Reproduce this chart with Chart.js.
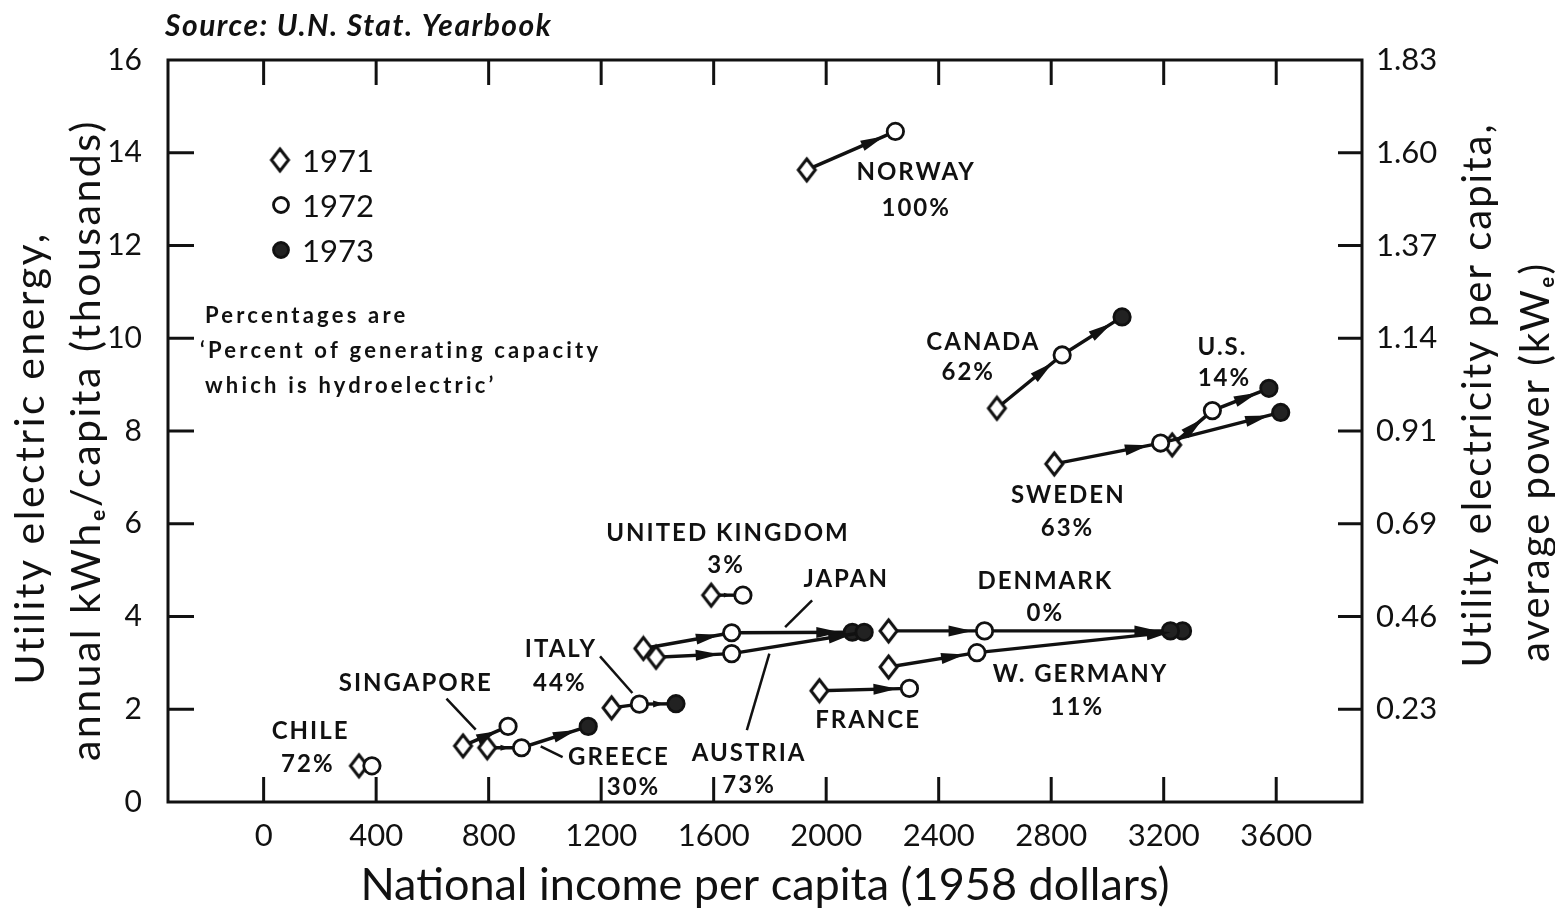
<!DOCTYPE html>
<html>
<head>
<meta charset="utf-8">
<script src="https://cdn.jsdelivr.net/npm/chart.js@4.4.1/dist/chart.umd.min.js"></script>
<style>
  html, body { margin: 0; padding: 0; background: #fff; }
  #wrap { width: 1555px; height: 912px; position: relative; }
</style>
</head>
<body>
<div id="wrap"><canvas id="myChart"></canvas></div>
<script>
// values: national income (1958 $) and kWh(e)/capita (thousands)
const countries = ['Chile', 'Singapore', 'Greece', 'Italy', 'United Kingdom', 'Austria', 'Japan', 'France',
                   'Denmark', 'W. Germany', 'Norway', 'Canada', 'Sweden', 'U.S.'];
const income1971 = [339, 709, 795, 1237, 1591, 1395, 1350, 1976, 2222, 2222, 1931, 2607, 2811, 3230];
const income1972 = [385, 869, 917, 1336, 1704, 1664, 1664, 2296, 2563, 2536, 2246, 2839, 3189, 3373];
const income1973 = [null, null, 1154, 1466, null, 2135, 2093, null, 3224, 3267, null, 3052, 3616, 3574];
const energy1971 = [0.78, 1.21, 1.17, 2.03, 4.46, 3.12, 3.31, 2.40, 3.69, 2.91, 13.63, 8.49, 7.29, 7.70];
const energy1972 = [0.78, 1.63, 1.17, 2.11, 4.46, 3.20, 3.65, 2.45, 3.69, 3.22, 14.46, 9.64, 7.74, 8.44];
const energy1973 = [null, null, 1.63, 2.12, null, 3.66, 3.66, null, 3.69, 3.69, null, 10.46, 8.40, 8.92];
const hydroShare = ['72%', '', '30%', '44%', '3%', '73%', '', '', '0%', '11%', '100%', '62%', '63%', '14%'];

const xTicks = [0, 400, 800, 1200, 1600, 2000, 2400, 2800, 3200, 3600];
const yTicks = [0, 2, 4, 6, 8, 10, 12, 14, 16];
const kWeLabels = ['', '0.23', '0.46', '0.69', '0.91', '1.14', '1.37', '1.60', '1.83'];
const years = ['1971', '1972', '1973'];

// where the country names / percentages sit (axis units): nameX, nameY, pctX, pctY
const labelAt = [
  [167, 1.53, 157, 0.81], [541, 2.56], [1263, 0.96, 1315, 0.32], [1057, 3.30, 1053, 2.56],
  [1651, 5.80, 1644, 5.11], [1726, 1.05, 1726, 0.36], [2071, 4.81], [2149, 1.76],
  [2779, 4.76, 2779, 4.07], [2904, 2.76, 2893, 2.05], [2320, 13.57, 2320, 12.81],
  [2559, 9.92, 2505, 9.26], [2861, 6.62, 2858, 5.91], [3409, 9.81, 3416, 9.14]
];
// leader lines from a label to its track
const leaders = [
  [1950, 4.35, 1854, 3.77], [1798, 3.20, 1718, 1.55], [1196, 3.14, 1311, 2.35],
  [650, 2.23, 754, 1.56], [985, 1.20, 1063, 0.97]
];

const INK = '#111';
const FONT = 'Lato, "DejaVu Sans", sans-serif';

// 1971 marker: a diamond a little taller than wide
function diamondImage(w, h, lw) {
  const c = document.createElement('canvas');
  c.width = Math.ceil(w + lw * 2);
  c.height = Math.ceil(h + lw * 2);
  const g = c.getContext('2d');
  const cx = c.width / 2, cy = c.height / 2;
  g.beginPath();
  g.moveTo(cx, cy - h / 2);
  g.lineTo(cx + w / 2, cy);
  g.lineTo(cx, cy + h / 2);
  g.lineTo(cx - w / 2, cy);
  g.closePath();
  g.fillStyle = '#fff';
  g.fill();
  g.lineWidth = lw;
  g.strokeStyle = INK;
  g.stroke();
  return c;
}
const diamond = diamondImage(17, 22, 3);

function buildDatasets() {
  return countries.map((name, i) => {
    const pts = [{x: income1971[i], y: energy1971[i]}, {x: income1972[i], y: energy1972[i]}];
    if (income1973[i] !== null) pts.push({x: income1973[i], y: energy1973[i]});
    return {
      label: name,
      data: pts,
      showLine: true,
      borderColor: INK,
      borderWidth: 3.4,
      pointStyle: [diamond, 'circle', 'circle'],
      pointRadius: [10, 8.2, 8.2],
      pointBackgroundColor: ['#fff', '#fff', '#222'],
      pointBorderColor: INK,
      pointBorderWidth: 2.8
    };
  });
}

function line(ctx, x1, y1, x2, y2) {
  ctx.beginPath();
  ctx.moveTo(x1, y1);
  ctx.lineTo(x2, y2);
  ctx.stroke();
}

function rotatedText(ctx, text, x, y) {
  ctx.save();
  ctx.translate(x, y);
  ctx.rotate(-Math.PI / 2);
  ctx.fillText(text, 0, 0);
  ctx.restore();
}

const framePlugin = {
  id: 'frame',
  beforeDatasetsDraw(chart) {
    const {ctx, chartArea: ca, scales} = chart;
    ctx.save();
    ctx.strokeStyle = INK;
    ctx.lineWidth = 3;
    ctx.strokeRect(ca.left, ca.top, ca.width, ca.height);
    xTicks.forEach(v => {
      const px = scales.x.getPixelForValue(v);
      line(ctx, px, ca.bottom, px, ca.bottom - 25);
      line(ctx, px, ca.top, px, ca.top + 25);
    });
    yTicks.slice(1, -1).forEach(v => {
      const py = scales.y.getPixelForValue(v);
      line(ctx, ca.left, py, ca.left + 26, py);
      line(ctx, ca.right, py, ca.right - 24, py);
    });
    ctx.restore();
  }
};

const arrowPlugin = {
  id: 'arrows',
  afterDatasetsDraw(chart) {
    const ctx = chart.ctx;
    ctx.save();
    ctx.fillStyle = INK;
    chart.data.datasets.forEach((ds, i) => {
      const pts = chart.getDatasetMeta(i).data;
      for (let k = 0; k < pts.length - 1; k++) {
        const a = pts[k], b = pts[k + 1];
        const dx = b.x - a.x, dy = b.y - a.y;
        const len = Math.hypot(dx, dy);
        const ux = dx / len, uy = dy / len;
        const free = len - 23;
        if (free < 4) continue;
        const head = Math.min(24, free * 0.8);
        const half = Math.min(5.5, head * 0.33);
        const tipX = b.x - ux * 12, tipY = b.y - uy * 12;
        const bx = tipX - ux * head, by = tipY - uy * head;
        ctx.beginPath();
        ctx.moveTo(tipX, tipY);
        ctx.lineTo(bx - uy * half, by + ux * half);
        ctx.lineTo(bx + uy * half, by - ux * half);
        ctx.closePath();
        ctx.fill();
      }
    });
    ctx.restore();
  }
};

const notesPlugin = {
  id: 'notes',
  afterDraw(chart) {
    const {ctx, scales} = chart;
    const X = v => scales.x.getPixelForValue(v);
    const Y = v => scales.y.getPixelForValue(v);
    ctx.save();
    ctx.fillStyle = INK;
    ctx.strokeStyle = INK;

    // country labels
    ctx.font = 'bold 24px ' + FONT;
    ctx.letterSpacing = '2px';
    ctx.textAlign = 'center';
    ctx.textBaseline = 'middle';
    countries.forEach((name, i) => {
      const p = labelAt[i];
      ctx.fillText(name.toUpperCase(), X(p[0]), Y(p[1]));
      if (hydroShare[i] && p.length > 2) ctx.fillText(hydroShare[i], X(p[2]), Y(p[3]));
    });
    ctx.lineWidth = 2.5;
    leaders.forEach(l => line(ctx, X(l[0]), Y(l[1]), X(l[2]), Y(l[3])));

    // legend
    ctx.drawImage(diamond, 280 - diamond.width / 2, 160 - diamond.height / 2);
    ctx.lineWidth = 2.8;
    ['#fff', '#222'].forEach((fill, k) => {
      ctx.beginPath();
      ctx.arc(281, 205 + k * 45, 7.5, 0, Math.PI * 2);
      ctx.fillStyle = fill;
      ctx.fill();
      ctx.stroke();
    });
    ctx.fillStyle = INK;
    ctx.font = '31px ' + FONT;
    ctx.letterSpacing = '0px';
    ctx.textAlign = 'left';
    years.forEach((yr, k) => ctx.fillText(yr, 302, 162 + k * 45));

    // note on percentages
    ctx.font = 'bold 22px ' + FONT;
    ctx.letterSpacing = '3.2px';
    ctx.fillText('Percentages are', 205, 316);
    ctx.fillText('\u2018Percent of generating capacity', 200, 351);
    ctx.fillText('which is hydroelectric\u2019', 205, 386);

    // source line
    ctx.font = 'italic bold 30px ' + FONT;
    ctx.letterSpacing = '1.5px';
    ctx.fillText('Source: U.N. Stat. Yearbook', 165, 26);

    // rotated axis titles (both read bottom to top)
    ctx.textAlign = 'center';
    ctx.font = '41px ' + FONT;
    ctx.letterSpacing = '2.5px';
    rotatedText(ctx, 'Utility electric energy,', 31, 458);
    rotatedText(ctx, 'annual kWh\u2091/capita (thousands)', 87, 440);
    ctx.font = '40px ' + FONT;
    ctx.letterSpacing = '2px';
    rotatedText(ctx, 'Utility electricity per capita,', 1478, 395);
    rotatedText(ctx, 'average power (kW\u2091)', 1536, 462);
    ctx.restore();
  }
};

function renderChart() {
  const ctx = document.getElementById('myChart').getContext('2d');
  new Chart(ctx, {
    type: 'scatter',
    data: { datasets: buildDatasets() },
    options: {
      responsive: true,
      maintainAspectRatio: false,
      animation: false,
      events: [],
      layout: { padding: { top: 60, left: 0, right: 0, bottom: 0 } },
      plugins: { legend: { display: false }, tooltip: { enabled: false } },
      scales: {
        x: {
          type: 'linear',
          min: -340,
          max: 3905,
          afterBuildTicks: s => { s.ticks = xTicks.map(v => ({value: v})); },
          afterFit: s => { s.height = 110; },
          grid: { display: false },
          border: { display: false },
          ticks: {
            color: INK,
            font: { family: FONT, size: 31 },
            padding: 7,
            maxRotation: 0,
            callback: v => String(v)
          },
          title: {
            display: true,
            text: 'National income per capita (1958 dollars)',
            color: INK,
            font: { family: FONT, size: 45 },
            padding: { top: 0, bottom: 0 }
          }
        },
        y: {
          type: 'linear',
          position: 'left',
          min: 0,
          max: 16,
          afterBuildTicks: s => { s.ticks = yTicks.map(v => ({value: v})); },
          afterFit: s => { s.width = 168; },
          grid: { display: false },
          border: { display: false },
          ticks: { color: INK, font: { family: FONT, size: 30 }, padding: 18, callback: v => String(v) }
        },
        y2: {
          type: 'linear',
          position: 'right',
          min: 0,
          max: 16,
          afterBuildTicks: s => { s.ticks = yTicks.map(v => ({value: v})); },
          afterFit: s => { s.width = 193; },
          grid: { display: false },
          border: { display: false },
          ticks: {
            color: INK,
            font: { family: FONT, size: 31 },
            padding: 6,
            callback: (v, idx) => kWeLabels[idx]
          }
        }
      }
    },
    plugins: [framePlugin, arrowPlugin, notesPlugin]
  });
}

renderChart();
</script>
</body>
</html>
